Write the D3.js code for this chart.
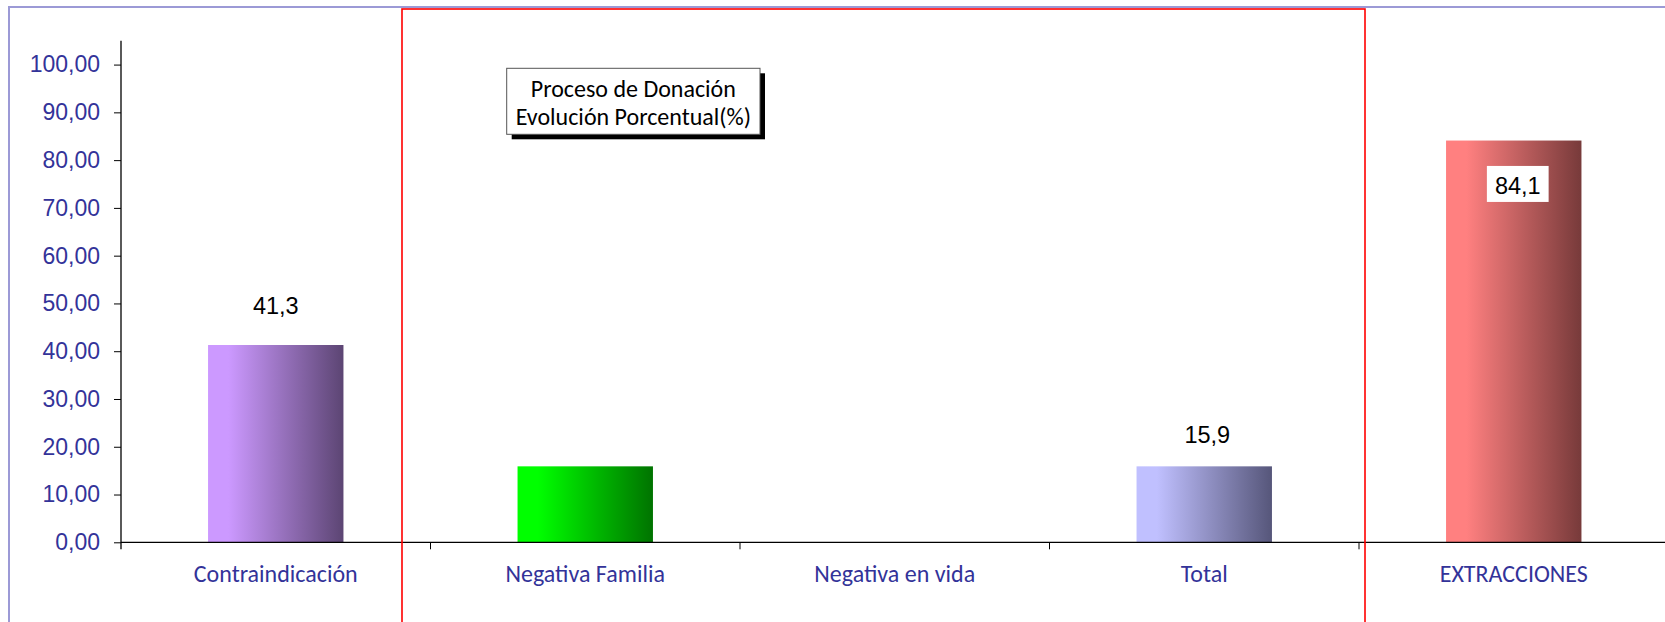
<!DOCTYPE html>
<html>
<head>
<meta charset="utf-8">
<script src="https://cdn.jsdelivr.net/npm/d3@7"></script>
<style>
  html, body { margin: 0; padding: 0; background: #fff; }
  svg { display: block; }
</style>
</head>
<body>
<svg id="chart" width="1665" height="622"></svg>
<script>
// ---- data ----
const categories = ["Contraindicación", "Negativa Familia", "Negativa en vida", "Total", "EXTRACCIONES"];
const values = [41.3, 15.9, 0, 15.9, 84.1];
const valueLabels = ["41,3", null, null, "15,9", "84,1"];
const lightColors = ["#CC99FF", "#00FF00", "#FFFFFF", "#C0C0FF", "#FF8080"];
const darkColors  = ["#5C4573", "#007300", "#FFFFFF", "#56567A", "#773A3A"];
const yTicks = [0, 10, 20, 30, 40, 50, 60, 70, 80, 90, 100];
const titleLines = ["Proceso de Donación", "Evolución Porcentual(%)"];

// ---- layout ----
const W = 1665, H = 622;
const plot = { left: 121, right: 1668.5, top: 40.7, bottom: 542.3 };
const labelDy = [-31, null, null, -23, 53];   // baseline offset relative to bar top
const labelDx = [0, 0, 0, 3, 4];
const catFont = "Carlito, Calibri, Lato, 'Open Sans', sans-serif";
const numFont = "'Liberation Sans', Arial, sans-serif";
const axisColor = "#333399";

const svg = d3.select("#chart");

// outer chart-area border (top and left edges visible)
svg.append("line").attr("x1", 8).attr("x2", W).attr("y1", 7).attr("y2", 7)
  .attr("stroke", "#9C9AD6").attr("stroke-width", 2);
svg.append("line").attr("x1", 9).attr("x2", 9).attr("y1", 6).attr("y2", H)
  .attr("stroke", "#9C9AD6").attr("stroke-width", 2);

const defs = svg.append("defs");
categories.forEach((c, i) => {
  const g = defs.append("linearGradient").attr("id", "grad" + i)
    .attr("x1", "0%").attr("x2", "100%").attr("y1", "0%").attr("y2", "0%");
  g.append("stop").attr("offset", "0%").attr("stop-color", lightColors[i]);
  g.append("stop").attr("offset", "15%").attr("stop-color", lightColors[i]);
  g.append("stop").attr("offset", "100%").attr("stop-color", darkColors[i]);
});

const x = d3.scaleBand().domain(categories).range([plot.left, plot.right]).paddingInner(0).paddingOuter(0);
const y = d3.scaleLinear().domain([0, 105]).range([plot.bottom, plot.top]);
const barW = x.bandwidth() * 0.4375;

// bars
svg.append("g").selectAll("rect").data(categories).join("rect")
  .attr("x", (d) => x(d) + (x.bandwidth() - barW) / 2)
  .attr("y", (d, i) => y(values[i]))
  .attr("width", barW)
  .attr("height", (d, i) => y(0) - y(values[i]))
  .attr("fill", (d, i) => `url(#grad${i})`);

// y axis
const yAxis = d3.axisLeft(y).tickValues(yTicks).tickSize(7).tickPadding(14)
  .tickFormat((d) => d3.format(".2f")(d).replace(".", ","));
const yg = svg.append("g").attr("transform", `translate(${plot.left},0)`).call(yAxis);
yg.select(".domain").remove();
yg.selectAll(".tick line").attr("stroke", "#000");
yg.selectAll(".tick text").attr("fill", axisColor)
  .style("font-family", numFont).style("font-size", "23px");
svg.append("line").attr("x1", plot.left).attr("x2", plot.left)
  .attr("y1", plot.top).attr("y2", plot.bottom + 7).attr("stroke", "#000").attr("stroke-width", 1.3);

// x axis
svg.append("line").attr("x1", plot.left).attr("x2", W)
  .attr("y1", plot.bottom).attr("y2", plot.bottom).attr("stroke", "#000").attr("stroke-width", 1.3);
const boundaries = categories.map((c) => x(c)).slice(1);
svg.append("g").selectAll("line").data(boundaries).join("line")
  .attr("x1", (d) => d).attr("x2", (d) => d)
  .attr("y1", plot.bottom).attr("y2", plot.bottom + 7)
  .attr("stroke", "#000").attr("stroke-width", 1);

svg.append("g").selectAll("text").data(categories).join("text")
  .attr("x", (d) => x(d) + x.bandwidth() / 2)
  .attr("y", plot.bottom + 39.5)
  .attr("text-anchor", "middle")
  .attr("fill", axisColor)
  .style("font-family", catFont).style("font-size", "24px")
  .text((d) => d);

// value labels
categories.forEach((c, i) => {
  if (valueLabels[i] == null) return;
  const cx = x(c) + x.bandwidth() / 2 + labelDx[i];
  const by = y(values[i]) + labelDy[i];
  const t = svg.append("text").attr("x", cx).attr("y", by)
    .attr("text-anchor", "middle").attr("fill", "#000")
    .style("font-family", numFont).style("font-size", "23.5px")
    .text(valueLabels[i]);
  if (labelDy[i] > 0) {
    const bb = t.node().getBBox();
    svg.insert("rect", () => t.node())
      .attr("x", bb.x - 8).attr("y", by - 27.6).attr("width", bb.width + 16).attr("height", 36)
      .attr("fill", "#fff");
  }
});

// red highlight box
svg.append("rect")
  .attr("x", 402).attr("y", 9).attr("width", 963).attr("height", H)
  .attr("fill", "none").attr("stroke", "#FF0000").attr("stroke-width", 1.6);

// title box with shadow
const tb = { x: 506.7, y: 68.3, w: 253.3, h: 66 };
svg.append("rect").attr("x", tb.x + 5).attr("y", tb.y + 5).attr("width", tb.w).attr("height", tb.h).attr("fill", "#000");
svg.append("rect").attr("x", tb.x).attr("y", tb.y).attr("width", tb.w).attr("height", tb.h)
  .attr("fill", "#fff").attr("stroke", "#555").attr("stroke-width", 1);
svg.append("g").selectAll("text").data(titleLines).join("text")
  .attr("x", tb.x + tb.w / 2)
  .attr("y", (d, i) => tb.y + 28.6 + i * 28.3)
  .attr("text-anchor", "middle").attr("fill", "#000")
  .style("font-family", catFont).style("font-size", "24px")
  .text((d) => d);
</script>
</body>
</html>
